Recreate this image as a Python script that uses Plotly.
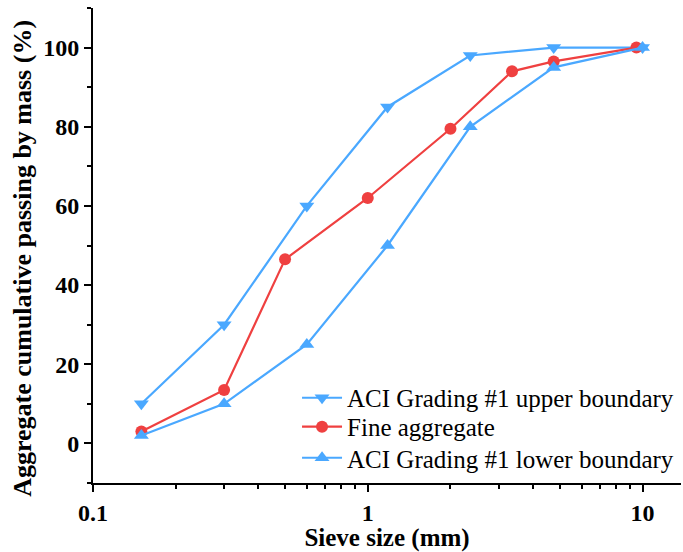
import plotly.graph_objects as go

upper_x = [0.15, 0.3, 0.6, 1.18, 2.36, 4.75, 10]
upper_y = [10, 30, 60, 85, 98, 100, 100]
fine_x = [0.15, 0.3, 0.5, 1.0, 2.0, 3.35, 4.75, 9.5]
fine_y = [3, 13.5, 46.5, 62, 79.5, 94, 96.5, 100]
lower_x = [0.15, 0.3, 0.6, 1.18, 2.36, 4.75, 10]
lower_y = [2, 10, 25, 50, 80, 95, 100]

blue = "#4AA8FF"
red = "#EF4040"
font = "Times New Roman, Liberation Serif, serif"

fig = go.Figure()
fig.add_trace(go.Scatter(x=upper_x, y=upper_y, mode="lines+markers",
                         name="ACI Grading #1 upper boundary", legend="legend",
                         line=dict(color=blue, width=2.2),
                         marker=dict(symbol="triangle-down", size=13, color=blue)))
fig.add_trace(go.Scatter(x=fine_x, y=fine_y, mode="lines+markers",
                         name="Fine aggregate", legend="legend2",
                         line=dict(color=red, width=2.2),
                         marker=dict(symbol="circle", size=12, color=red)))
fig.add_trace(go.Scatter(x=lower_x, y=lower_y, mode="lines+markers",
                         name="ACI Grading #1 lower boundary", legend="legend3",
                         line=dict(color=blue, width=2.2),
                         marker=dict(symbol="triangle-up", size=13, color=blue)))

minor_x = [0.2, 0.3, 0.4, 0.5, 0.6, 0.7, 0.8, 0.9, 2, 3, 4, 5, 6, 7, 8, 9]
bold = dict(family=font, size=24, color="black", weight="bold")
title_font = dict(family=font, size=25, color="black", weight="bold")


def leg(y):
    return dict(x=0.347, y=y, xanchor="left", yanchor="middle",
                font=dict(family=font, size=25, color="black"),
                bgcolor="rgba(0,0,0,0)", itemwidth=40)


fig.update_layout(
    width=683, height=552,
    margin=dict(l=93, r=2, t=8, b=69),
    plot_bgcolor="white", paper_bgcolor="white",
    font=dict(family=font, color="black"),
    showlegend=True,
    legend=leg(0.179), legend2=leg(0.118), legend3=leg(0.0526),
    xaxis=dict(type="log", range=[-1, 1.14], showgrid=False, zeroline=False,
               showline=True, linecolor="black", linewidth=2,
               ticks="outside", ticklen=7, tickwidth=2, tickcolor="black",
               tickvals=[0.1, 1, 10], ticktext=["0.1", "1", "10"],
               tickfont=bold,
               minor=dict(tickvals=minor_x, ticks="outside", ticklen=4,
                          tickwidth=1.5, tickcolor="black"),
               title=dict(text="Sieve size (mm)", font=title_font, standoff=0)),
    yaxis=dict(range=[-10, 110], showgrid=False, zeroline=False,
               showline=True, linecolor="black", linewidth=2,
               ticks="outside", ticklen=7, tickwidth=2, tickcolor="black",
               tickvals=[0, 20, 40, 60, 80, 100],
               tickfont=bold,
               minor=dict(tickvals=[-10, 10, 30, 50, 70, 90, 110], ticks="outside",
                          ticklen=4, tickwidth=1.5, tickcolor="black")),
    annotations=[dict(text="Aggregate cumulative passing by mass (%)",
                      font=dict(family=font, size=26, color="black", weight="bold"),
                      textangle=-90, xref="paper", yref="paper",
                      x=-0.121, y=(483 - 258) / 475, xanchor="center",
                      yanchor="middle", showarrow=False)],
)

fig.write_html("out.html")
